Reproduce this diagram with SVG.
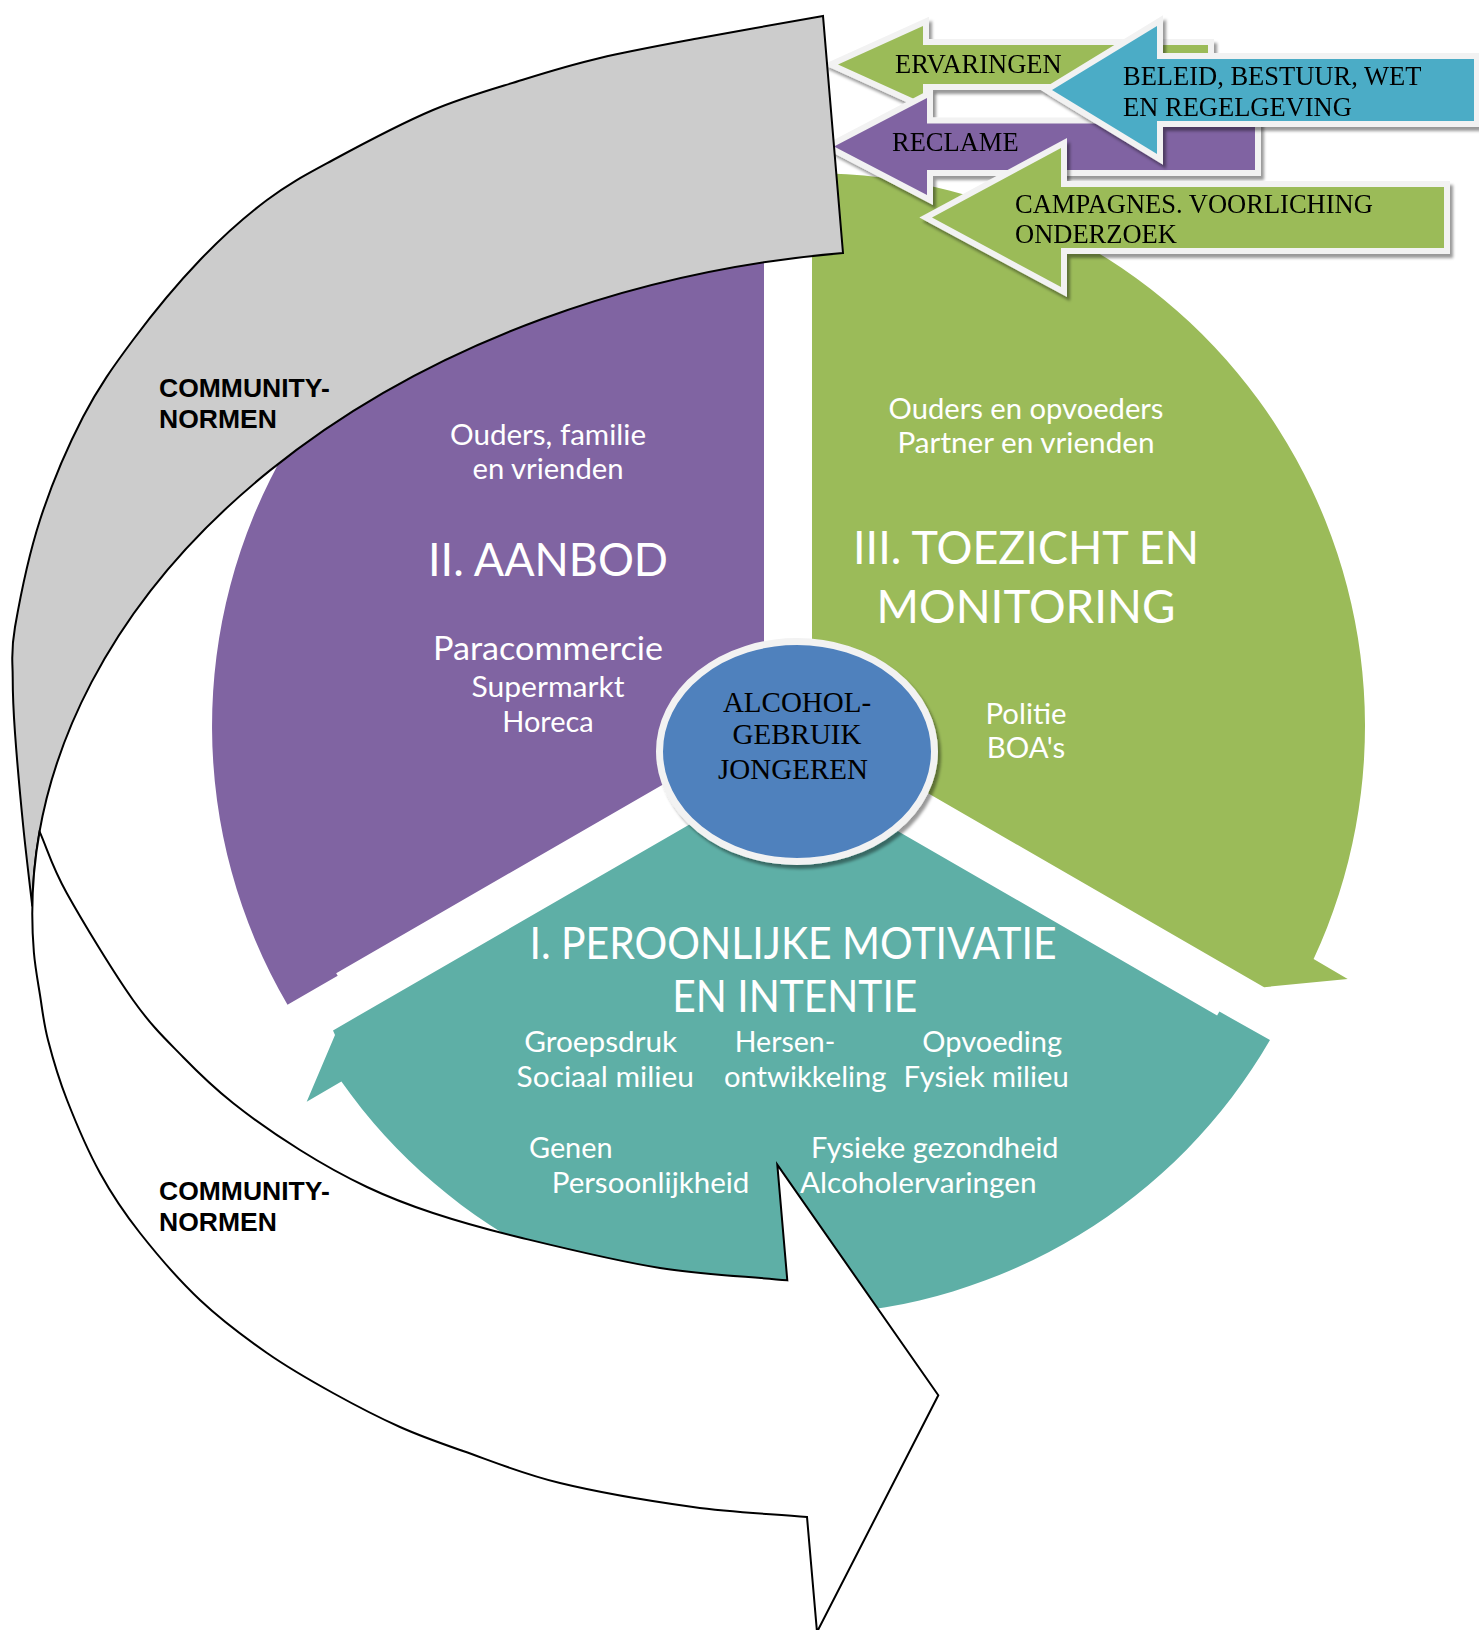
<svg xmlns="http://www.w3.org/2000/svg" width="1479" height="1630" viewBox="0 0 1479 1630">
  <defs>
    <style>
      .wt{font-family:Lato,'Liberation Sans',sans-serif;fill:#ffffff}
      .s29{font-size:29px}
      .s33{font-size:32.5px}
      .s47{font-size:47px}
      .s44{font-size:43.5px}
      .ser{font-family:'Liberation Serif','Times New Roman',serif;fill:#000000}
      .co-t{font-size:26.5px}
      .node-t{font-size:29px}
      .co{stroke:#f2f2f2;stroke-width:12;paint-order:stroke;stroke-linejoin:miter;stroke-miterlimit:4}
      .norm{font-family:'Liberation Sans',Arial,sans-serif;font-weight:bold;font-size:26.5px;fill:#000000}
      .band{stroke:#000000;stroke-width:2;stroke-linejoin:miter}
    </style>
    <filter id="shadow" x="-8%" y="-15%" width="120%" height="140%">
      <feDropShadow dx="3" dy="4" stdDeviation="1.5" flood-color="#000000" flood-opacity="0.4"/>
    </filter>
  </defs>

  <!-- II. supply segment (purple wedge) -->
  <g id="segment-aanbod">
    <path fill="#8064a2" d="M764 726.2 L336.2 973.2 L337.7 975.8 L287.5 1004.8 A552 552 0 0 1 764 174.2 Z"/>
    <g class="wt" text-anchor="middle">
      <text class="s29" x="548" y="445" textLength="196" lengthAdjust="spacingAndGlyphs">Ouders, familie</text>
      <text class="s29" x="548" y="479" textLength="151" lengthAdjust="spacingAndGlyphs">en vrienden</text>
      <text class="s47" x="548" y="576" textLength="240" lengthAdjust="spacingAndGlyphs">II. AANBOD</text>
      <text class="s33" x="548" y="660" textLength="230" lengthAdjust="spacingAndGlyphs">Paracommercie</text>
      <text class="s29" x="548" y="697" textLength="153" lengthAdjust="spacingAndGlyphs">Supermarkt</text>
      <text class="s29" x="548" y="732" textLength="91.5" lengthAdjust="spacingAndGlyphs">Horeca</text>
    </g>
  </g>

  <!-- III. supervision segment (green wedge) -->
  <g id="segment-toezicht">
    <path fill="#9bbb59" d="M812 726.2 L812 173.2 A553 553 0 0 1 1313.6 959 L1347.7 979 L1264.1 987.2 Z"/>
    <g class="wt" text-anchor="middle">
      <text class="s29" x="1026" y="418.5" textLength="275" lengthAdjust="spacingAndGlyphs">Ouders en opvoeders</text>
      <text class="s29" x="1026" y="453" textLength="257" lengthAdjust="spacingAndGlyphs">Partner en vrienden</text>
      <text class="s47" x="1026" y="564" textLength="346" lengthAdjust="spacingAndGlyphs">III. TOEZICHT EN</text>
      <text class="s47" x="1026" y="623" textLength="299" lengthAdjust="spacingAndGlyphs">MONITORING</text>
      <text class="s29" x="1026" y="724" textLength="81" lengthAdjust="spacingAndGlyphs">Politie</text>
      <text class="s29" x="1026" y="757.5" textLength="78.5" lengthAdjust="spacingAndGlyphs">BOA's</text>
    </g>
  </g>

  <!-- I. personal motivation segment (teal wedge) -->
  <g id="segment-motivatie">
    <path fill="#5eafa6" d="M788 767.7 L1217.1 1015.5 L1219.4 1011.6 L1270 1040 A552 552 0 0 1 341.4 1081.6 L306.7 1101.7 L335 1035 L333 1030.4 Z"/>
    <g class="wt">
      <text class="s44" x="529.5" y="959" textLength="527" lengthAdjust="spacingAndGlyphs">I. PEROONLIJKE MOTIVATIE</text>
      <text class="s44" x="672.3" y="1012" textLength="245" lengthAdjust="spacingAndGlyphs">EN INTENTIE</text>
      <text class="s29" x="524.2" y="1052" textLength="153" lengthAdjust="spacingAndGlyphs">Groepsdruk</text>
      <text class="s29" x="516.6" y="1086.5" textLength="177.3" lengthAdjust="spacingAndGlyphs">Sociaal milieu</text>
      <text class="s29" x="734.8" y="1052" textLength="100.5" lengthAdjust="spacingAndGlyphs">Hersen-</text>
      <text class="s29" x="724" y="1086.5" textLength="162.5" lengthAdjust="spacingAndGlyphs">ontwikkeling</text>
      <text class="s29" x="922.3" y="1052" textLength="139.7" lengthAdjust="spacingAndGlyphs">Opvoeding</text>
      <text class="s29" x="903.6" y="1086.5" textLength="165.2" lengthAdjust="spacingAndGlyphs">Fysiek milieu</text>
      <text class="s29" x="529" y="1158" textLength="83.5" lengthAdjust="spacingAndGlyphs">Genen</text>
      <text class="s29" x="551.7" y="1192.5" textLength="197.7" lengthAdjust="spacingAndGlyphs">Persoonlijkheid</text>
      <text class="s29" x="811" y="1158" textLength="247.5" lengthAdjust="spacingAndGlyphs">Fysieke gezondheid</text>
      <text class="s29" x="800" y="1192.5" textLength="236.6" lengthAdjust="spacingAndGlyphs">Alcoholervaringen</text>
    </g>
  </g>

  <!-- central node -->
  <g id="node-alcoholgebruik">
    <ellipse cx="797" cy="751.5" rx="137.5" ry="110" fill="#4f81bd" stroke="#f2f2f2" stroke-width="7" filter="url(#shadow)"/>
    <g class="ser node-t" text-anchor="middle">
      <text x="797" y="711.5">ALCOHOL-</text>
      <text x="797" y="744">GEBRUIK</text>
      <text x="793" y="778.5">JONGEREN</text>
    </g>
  </g>

  <!-- outside influences (block arrows pointing left) -->
  <g id="influence-ervaringen" filter="url(#shadow)">
    <polygon class="co" fill="#9bbb59" points="838,64.5 923,26 923,45 1208,45 1208,84 923,84 923,103"/>
    <text class="ser co-t" x="895" y="73">ERVARINGEN</text>
  </g>
  <g id="influence-reclame" filter="url(#shadow)">
    <polygon class="co" fill="#8064a2" points="834,146.5 927,98 927,123.5 1255,123.5 1255,170 927,170 927,195"/>
    <text class="ser co-t" x="892" y="151">RECLAME</text>
  </g>
  <g id="influence-beleid" filter="url(#shadow)">
    <polygon class="co" fill="#4bacc6" points="1052,90 1157,26 1157,59 1474,59 1474,121 1157,121 1157,154"/>
    <text class="ser co-t" x="1123" y="85">BELEID, BESTUUR, WET</text>
    <text class="ser co-t" x="1123" y="116">EN REGELGEVING</text>
  </g>
  <g id="influence-campagnes" filter="url(#shadow)">
    <polygon class="co" fill="#9bbb59" points="932,217.5 1061,148 1061,187 1444,187 1444,248 1061,248 1061,287"/>
    <text class="ser co-t" x="1015" y="213">CAMPAGNES. VOORLICHING</text>
    <text class="ser co-t" x="1015" y="243">ONDERZOEK</text>
  </g>

  <!-- community norms: curved band wrapping the cycle -->
  <g id="connectors">
    <!-- back side of the band -->
    <path class="band" fill="#cccccc" d="M823 16
      C802.5 19.7 737.2 31 700 38
      C662.8 45 629.7 51 600 58
      C570.3 65 549.8 71.3 522 80
      C494.2 88.7 464.5 96.7 433 110
      C401.5 123.3 360.7 145 333 160
      C305.3 175 289.2 183.3 267 200
      C244.8 216.7 222.3 236.7 200 260
      C177.7 283.3 152.5 313.8 133 340
      C113.5 366.2 98.5 387 83 417
      C67.5 447 51.3 485 40 520
      C28.7 555 19.55 600.8 15 627
      C10.45 653.2 12.7 659.3 12.7 677
      C12.7 694.7 13.2 708 15 733
      C16.8 758 20.4 798.1 23.3 827
      C26.2 855.9 30.8 893 32.3 906.4
      A865.1 629 -4.82 0 1 843 253 Z"/>
    <!-- front side of the band with arrow head -->
    <path class="band" fill="#ffffff" d="M39.6 831.6
      A865.1 629 -4.82 0 0 33.9 952.5
      C35.1 966.7 37.65 980.4 40 995
      C42.35 1009.6 43.5 1022.5 48 1040
      C52.5 1057.5 58.3 1077.8 67 1100
      C75.7 1122.2 87.8 1150.8 100 1173
      C112.2 1195.2 123.3 1211.8 140 1233
      C156.7 1254.2 178.8 1280 200 1300
      C221.2 1320 244.8 1337.5 267 1353
      C289.2 1368.5 310.8 1380.7 333 1393
      C355.2 1405.3 378.3 1417.3 400 1427
      C421.7 1436.7 436.3 1441.7 463 1451
      C489.7 1460.3 521.7 1473.7 560 1483
      C598.3 1492.3 651.8 1501.3 693 1507
      C734.2 1512.7 769 1513.7 807 1517
      L817 1632 L938.3 1395.3 L777.3 1164.7 L787.3 1280.3
      C744.9 1276.2 704.2 1275 660 1268
      C615.8 1261 559.8 1247.2 522 1238
      C484.2 1228.8 458.8 1221.5 433 1213
      C407.2 1204.5 389.2 1197.5 367 1187
      C344.8 1176.5 322.3 1164 300 1150
      C277.7 1136 252.5 1118.5 233 1103
      C213.5 1087.5 199.7 1074.2 183 1057
      C166.3 1039.8 152.4 1027.3 133 1000
      C113.6 972.7 82.3 921.1 66.7 893
      C51.1 864.9 48.6 852.1 39.6 831.6 Z"/>
  </g>
  <g id="community-norms-labels" class="norm">
    <text x="159" y="397">COMMUNITY-</text>
    <text x="159" y="427.5">NORMEN</text>
    <text x="159" y="1200">COMMUNITY-</text>
    <text x="159" y="1230.5">NORMEN</text>
  </g>
</svg>
